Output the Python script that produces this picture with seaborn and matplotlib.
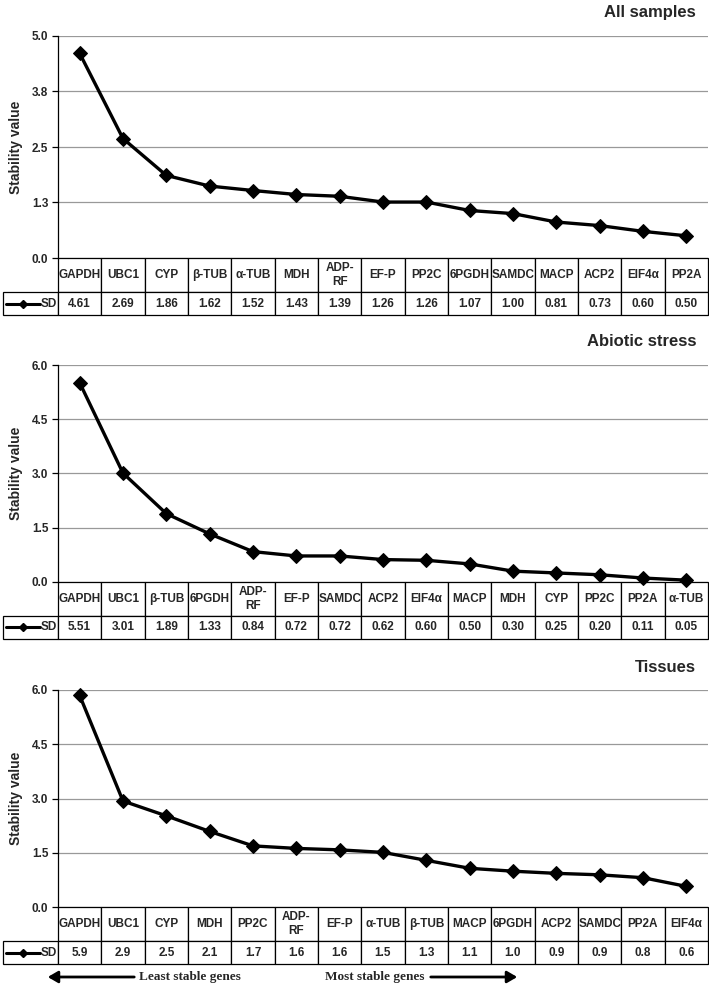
import matplotlib
matplotlib.use("Agg")
import matplotlib.pyplot as plt
import matplotlib.patches as mpatches
import seaborn as sns
import pandas as pd

sns.set_style("white")
plt.rcParams["font.family"] = ["Liberation Sans Narrow", "Liberation Sans", "DejaVu Sans"]
plt.rcParams["font.weight"] = "bold"

# Data per panel
all_genes = ["GAPDH", "UBC1", "CYP", "β-TUB", "α-TUB", "MDH", "ADP-\nRF", "EF-P", "PP2C",
             "6PGDH", "SAMDC", "MACP", "ACP2", "EIF4α", "PP2A"]
all_sd = [4.61, 2.69, 1.86, 1.62, 1.52, 1.43, 1.39, 1.26, 1.26, 1.07, 1.00, 0.81, 0.73, 0.60, 0.50]
all_labels = ["4.61", "2.69", "1.86", "1.62", "1.52", "1.43", "1.39", "1.26", "1.26",
              "1.07", "1.00", "0.81", "0.73", "0.60", "0.50"]
all_ticks = [0.0, 1.25, 2.5, 3.75, 5.0]
all_ticklabels = ["0.0", "1.3", "2.5", "3.8", "5.0"]

abiotic_genes = ["GAPDH", "UBC1", "β-TUB", "6PGDH", "ADP-\nRF", "EF-P", "SAMDC", "ACP2", "EIF4α",
                 "MACP", "MDH", "CYP", "PP2C", "PP2A", "α-TUB"]
abiotic_sd = [5.51, 3.01, 1.89, 1.33, 0.84, 0.72, 0.72, 0.62, 0.60, 0.50, 0.30, 0.25, 0.20, 0.11, 0.05]
abiotic_labels = ["5.51", "3.01", "1.89", "1.33", "0.84", "0.72", "0.72", "0.62", "0.60",
                  "0.50", "0.30", "0.25", "0.20", "0.11", "0.05"]

tissue_genes = ["GAPDH", "UBC1", "CYP", "MDH", "PP2C", "ADP-\nRF", "EF-P", "α-TUB", "β-TUB",
                "MACP", "6PGDH", "ACP2", "SAMDC", "PP2A", "EIF4α"]
tissue_sd = [5.85, 2.93, 2.52, 2.09, 1.69, 1.62, 1.58, 1.51, 1.29, 1.07, 0.99, 0.93, 0.89, 0.81, 0.57]
tissue_labels = ["5.9", "2.9", "2.5", "2.1", "1.7", "1.6", "1.6", "1.5", "1.3",
                 "1.1", "1.0", "0.9", "0.9", "0.8", "0.6"]
six_ticks = [0.0, 1.5, 3.0, 4.5, 6.0]
six_ticklabels = ["0.0", "1.5", "3.0", "4.5", "6.0"]

panels = [
    ("All samples", all_genes, all_sd, all_labels, all_ticks, all_ticklabels, 36, 258),
    ("Abiotic stress", abiotic_genes, abiotic_sd, abiotic_labels, six_ticks, six_ticklabels, 365, 582),
    ("Tissues", tissue_genes, tissue_sd, tissue_labels, six_ticks, six_ticklabels, 690, 907),
]

W, H = 709, 988
fig = plt.figure(figsize=(W / 100, H / 100), dpi=100)

x_left, x_right = 58, 708
leg_left = 3
head_h, sd_h = 34, 23

for title, genes, sd, labels, ticks, ticklabels, top, bottom in panels:
    ax = fig.add_axes([x_left / W, 1 - bottom / H, (x_right - x_left) / W, (bottom - top) / H])
    df = pd.DataFrame({"gene": range(len(genes)), "sd": sd})
    sns.lineplot(data=df, x="gene", y="sd", ax=ax, color="black", linewidth=2.4,
                 marker="D", markersize=7, markeredgecolor="black", clip_on=False, zorder=5)
    ax.set_xlim(-0.5, len(genes) - 0.5)
    ax.set_ylim(ticks[0], ticks[-1])
    ax.set_yticks(ticks)
    ax.set_yticklabels(ticklabels, fontsize=8.5, fontweight="bold")
    ax.set_xticks([])
    ax.set_xlabel("")
    ax.set_ylabel("Stability value", fontsize=10, fontweight="bold", labelpad=6)
    ax.yaxis.grid(True, color="#999999", linewidth=0.9)
    ax.set_axisbelow(True)
    for s in ["top", "right", "bottom"]:
        ax.spines[s].set_visible(False)
    ax.spines["left"].set_color("black")
    ax.spines["left"].set_linewidth(0.9)
    ax.tick_params(axis="y", length=4, width=0.9, color="black", left=True, pad=3)
    fig.text(0.982, 1 - (top - 23) / H, title, ha="right", va="center",
             fontsize=12, fontweight="bold")

    # data table below the plot
    ph = bottom - top
    n = len(genes)
    col_w = (x_right - x_left) / n
    cells = [[""] + genes, [""] + labels]
    tb = ax.table(cellText=cells, cellLoc="center",
                  bbox=[(leg_left - x_left) / (x_right - x_left), -(head_h + sd_h) / ph,
                        (x_right - leg_left) / (x_right - x_left), (head_h + sd_h) / ph])
    tb.auto_set_font_size(False)
    for (r, c), cell in tb.get_celld().items():
        cell.set_width(x_left - leg_left if c == 0 else col_w)
        cell.set_height(head_h if r == 0 else sd_h)
        cell.set_linewidth(0.9)
        cell.get_text().set_fontsize(8.5)
        cell.get_text().set_fontweight("bold")
        if r == 0 and c == 0:
            cell.visible_edges = ""
    # legend cell: line + marker + "SD"
    y_sd = -(head_h + sd_h / 2) / ph
    lx0 = (leg_left + 3 - x_left) / (x_right - x_left)
    lx1 = (leg_left + 37 - x_left) / (x_right - x_left)
    ax.plot([lx0, lx1], [y_sd, y_sd], transform=ax.transAxes, color="black",
            linewidth=2.2, clip_on=False)
    ax.plot([(lx0 + lx1) / 2], [y_sd], transform=ax.transAxes, color="black",
            marker="D", markersize=4.5, clip_on=False)
    ax.text((leg_left + 38 - x_left) / (x_right - x_left), y_sd, "SD", transform=ax.transAxes,
            ha="left", va="center", fontsize=8.5, fontweight="bold")

# stability arrows at bottom
y_arr = 1 - 977 / H
fig.text(190 / W, y_arr, "Least stable genes", ha="center", va="center",
         fontsize=9.5, fontweight="bold", family="Liberation Serif")
fig.text(375 / W, y_arr, "Most stable genes", ha="center", va="center",
         fontsize=9.5, fontweight="bold", family="Liberation Serif")
fig.patches.append(mpatches.FancyArrowPatch(
    (137 / W, y_arr), (45 / W, y_arr), transform=fig.transFigure,
    arrowstyle="-|>,head_length=6,head_width=3.5", color="black", linewidth=2))
fig.patches.append(mpatches.FancyArrowPatch(
    (428 / W, y_arr), (520 / W, y_arr), transform=fig.transFigure,
    arrowstyle="-|>,head_length=6,head_width=3.5", color="black", linewidth=2))

fig.savefig("out.png", dpi=100)
